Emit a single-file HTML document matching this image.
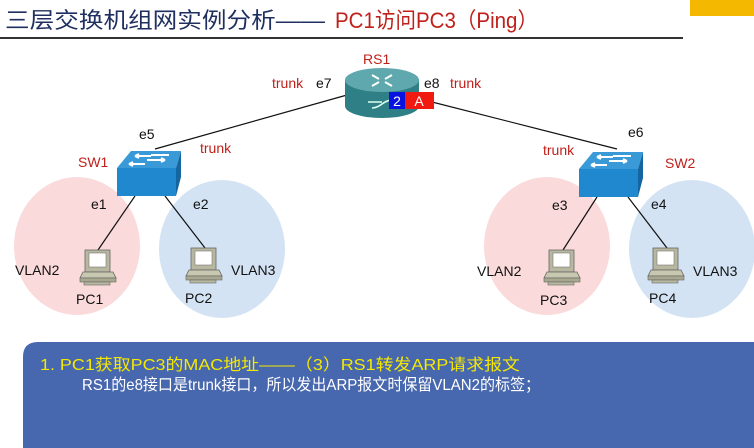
<!DOCTYPE html>
<html><head><meta charset="utf-8"><style>
html,body{margin:0;padding:0;background:#fff;}
body{width:754px;height:448px;overflow:hidden;position:relative;font-family:"Liberation Sans","Noto Sans CJK SC",sans-serif;}
</style></head><body>
<svg width="754" height="448" viewBox="0 0 754 448" xmlns="http://www.w3.org/2000/svg" style="position:absolute;left:0;top:0">
<defs>
<g id="pc">
  <rect x="5" y="0" width="25" height="22" fill="#b8b8a0" stroke="#666" stroke-width="0.8"/>
  <rect x="9" y="3" width="17" height="14" fill="#fff" stroke="#777" stroke-width="0.6"/>
  <polygon points="3,22 33,22 36,28 0,28" fill="#c8c8b0" stroke="#666" stroke-width="0.8"/>
  <rect x="0" y="28" width="36" height="4" fill="#a8a890" stroke="#666" stroke-width="0.6"/>
  <rect x="4" y="32" width="26" height="3" fill="#b8b8a0" stroke="#666" stroke-width="0.6"/>
</g>
<g id="sw">
  <polygon points="0,17 14,0 64,0 59,17" fill="#3a9ad8"/>
  <rect x="0" y="17" width="59" height="28" fill="#1f88cf"/>
  <polygon points="59,17 64,0 64,26 59,45" fill="#1466a0"/>
  <path d="M18,5 L34,5 M18,5 l4,-2 M18,5 l4,2 M30,9 L48,9 M48,9 l-4,-2 M48,9 l-4,2 M12,13 L28,13 M12,13 l4,-2 M12,13 l4,2 M34,4 L52,4" stroke="#fff" stroke-width="2" fill="none"/>
</g>
</defs>
<text x="5" y="28" font-size="22" fill="#1f2f5f" textLength="320" lengthAdjust="spacingAndGlyphs">三层交换机组网实例分析——</text>
<text x="335" y="28" font-size="22" fill="#c0201a" textLength="203" lengthAdjust="spacingAndGlyphs">PC1访问PC3（Ping）</text>
<rect x="0" y="37" width="683" height="2" fill="#333"/>
<rect x="690" y="0" width="64" height="16" fill="#f5b800"/>

<ellipse cx="77" cy="246" rx="63" ry="69" fill="#fadada"/>
<ellipse cx="222" cy="249" rx="63" ry="69" fill="#d3e3f3"/>
<ellipse cx="547" cy="246" rx="63" ry="69" fill="#fadada"/>
<ellipse cx="692" cy="249" rx="63" ry="69" fill="#d3e3f3"/>

<line x1="347" y1="95" x2="155" y2="149" stroke="#111" stroke-width="1.2"/>
<line x1="432" y1="102" x2="617" y2="149" stroke="#111" stroke-width="1.2"/>
<line x1="135" y1="196" x2="98" y2="250" stroke="#111" stroke-width="1.2"/>
<line x1="165" y1="196" x2="205" y2="248" stroke="#111" stroke-width="1.2"/>
<line x1="597" y1="197" x2="563" y2="250" stroke="#111" stroke-width="1.2"/>
<line x1="628" y1="197" x2="667" y2="248" stroke="#111" stroke-width="1.2"/>

<use href="#sw" x="117" y="151"/>
<use href="#sw" x="579" y="152"/>

<path d="M345,80 L345,106 A37,12 0 0 0 419,106 L419,80 Z" fill="#2f7f86"/>
<ellipse cx="382" cy="80" rx="37" ry="12" fill="#5fa8ae"/>
<path d="M372,75 l7,4 M392,75 l-7,4 M372,86 l7,-4 M392,86 l-7,-4" stroke="#fff" stroke-width="2"/>
<path d="M368,102 l14,0 M372,108 c8,0 12,-8 20,-8" stroke="#dfe" stroke-width="1.6" fill="none"/>
<rect x="389" y="92" width="16" height="17" fill="#0a12e0"/>
<rect x="405" y="92" width="29" height="17" fill="#f01a10"/>
<text x="397" y="106" font-size="14" fill="#fff" text-anchor="middle">2</text>
<text x="419" y="106" font-size="14" fill="#fff" text-anchor="middle">A</text>

<use href="#pc" x="80" y="250"/>
<use href="#pc" x="186" y="248"/>
<use href="#pc" x="544" y="250"/>
<use href="#pc" x="648" y="248"/>

<g font-size="14" fill="#c0201a">
<text x="363" y="64">RS1</text>
<text x="272" y="88">trunk</text>
<text x="450" y="88">trunk</text>
<text x="200" y="153">trunk</text>
<text x="543" y="155">trunk</text>
<text x="78" y="167">SW1</text>
<text x="665" y="168">SW2</text>
</g>
<g font-size="14" fill="#111">
<text x="316" y="88">e7</text>
<text x="424" y="88">e8</text>
<text x="139" y="139">e5</text>
<text x="628" y="137">e6</text>
<text x="91" y="209">e1</text>
<text x="193" y="209">e2</text>
<text x="552" y="210">e3</text>
<text x="651" y="209">e4</text>
<text x="15" y="275">VLAN2</text>
<text x="231" y="275">VLAN3</text>
<text x="477" y="276">VLAN2</text>
<text x="693" y="276">VLAN3</text>
<text x="76" y="304">PC1</text>
<text x="185" y="303">PC2</text>
<text x="540" y="305">PC3</text>
<text x="649" y="303">PC4</text>
</g>

<path d="M38,342 L754,342 L754,448 L23,448 L23,357 Q23,342 38,342 Z" fill="#4767ae"/>
<text x="40" y="370" font-size="16" fill="#f5e800" textLength="480" lengthAdjust="spacingAndGlyphs">1.  PC1获取PC3的MAC地址——（3）RS1转发ARP请求报文</text>
<text x="82" y="390" font-size="16" fill="#fff" textLength="458" lengthAdjust="spacingAndGlyphs">RS1的e8接口是trunk接口，所以发出ARP报文时保留VLAN2的标签；</text>
</svg>
</body></html>
